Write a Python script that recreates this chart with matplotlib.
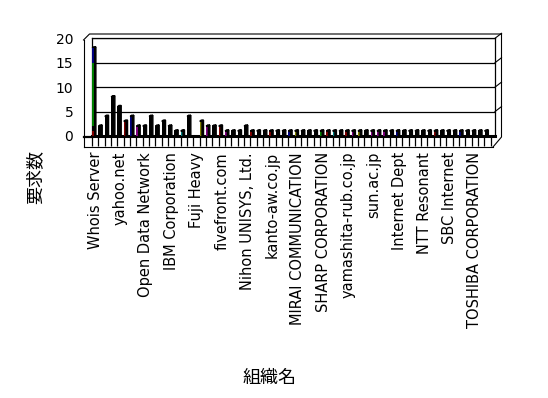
import matplotlib
matplotlib.use('Agg')
import matplotlib.pyplot as plt
from matplotlib.lines import Line2D
from matplotlib.patches import Polygon

# palette used by the old chart
BLACK = '#000000'
RED = '#800000'
GREEN = '#008000'
OLIVE = '#808000'
NAVY = '#000080'
PURPLE = '#800080'
TEAL = '#008080'

# requests per organisation
values = [18, 2, 4, 8, 6, 3, 4, 2, 2, 4,
          2, 3, 2, 1, 1, 4, 0, 3, 2, 2,
          2, 1, 1, 1, 2, 1, 1, 1, 1, 1,
          1, 1, 1, 1, 1, 1, 1, 1, 1, 1,
          1, 1, 1, 1, 1, 1, 1, 1, 1, 1,
          1, 1, 1, 1, 1, 1, 1, 1, 1, 1,
          1, 1, 1]
bar_colors = [GREEN, BLACK, BLACK, BLACK, BLACK, RED, NAVY, PURPLE, BLACK, BLACK,
              BLACK, BLACK, BLACK, BLACK, TEAL, BLACK, BLACK, OLIVE, PURPLE, BLACK,
              RED, PURPLE, BLACK, BLACK, BLACK, RED, BLACK, BLACK, RED, BLACK,
              BLACK, NAVY, OLIVE, BLACK, BLACK, BLACK, GREEN, RED, TEAL, BLACK,
              RED, PURPLE, OLIVE, BLACK, PURPLE, PURPLE, PURPLE, BLACK, NAVY, BLACK,
              BLACK, BLACK, BLACK, BLACK, RED, BLACK, BLACK, BLACK, NAVY, BLACK,
              BLACK, BLACK, BLACK]

# the Whois Server column is split into coloured parts
whois_low = [0, 1, 2, 15]
whois_high = [1, 2, 15, 18]
whois_colors = [RED, BLACK, GREEN, NAVY]

# only every fourth organisation is labelled
label_positions = [0, 4, 8, 12, 16, 20, 24, 28, 32, 36, 40, 44, 48, 52, 56, 60]
labels = ['Whois Server', 'yahoo.net', 'Open Data Network', 'IBM Corporation',
          'Fuji Heavy', 'fivefront.com', 'Nihon UNISYS, Ltd.', 'kanto-aw.co.jp',
          'MIRAI COMMUNICATION', 'SHARP CORPORATION', 'yamashita-rub.co.jp',
          'sun.ac.jp', 'Internet Dept', 'NTT Resonant', 'SBC Internet',
          'TOSHIBA CORPORATION']
y_ticks = [0, 5, 10, 15, 20]

W, H = 548, 398
JP = ['Noto Sans CJK JP', 'DejaVu Sans']


def fx(x):
    return x / W


def fy(y):
    return 1 - y / H


def fig_line(fig, xs, ys, lw=0.8):
    fig.add_artist(Line2D([fx(x) for x in xs], [fy(y) for y in ys],
                          color='black', lw=lw, transform=fig.transFigure))


def main():
    fig = plt.figure(figsize=(W / 100, H / 100), dpi=100)
    # back wall of the 3d box, in pixels of the picture
    left, right, top, bottom = 92, 495, 38.3, 136
    ax = fig.add_axes([fx(left), fy(bottom), fx(right - left), (bottom - top) / H])
    n = len(values)
    cat_w = 6.33
    ax.set_xlim(-0.5, (right - left) / cat_w - 0.5)
    ax.set_ylim(0, 20)

    # columns: coloured front face, black side and top
    w = 0.35
    dx, dy = 0.24, 0.25
    xs = [i - 0.3 for i in range(n)]
    ax.bar(xs, values, width=w, color=bar_colors, edgecolor='none', zorder=3)
    ax.bar([xs[0]] * len(whois_low), [h - l for l, h in zip(whois_low, whois_high)],
           bottom=whois_low, width=w, color=whois_colors, edgecolor='none', zorder=4)
    for x, v in zip(xs, values):
        if v <= 0:
            continue
        r = x + w / 2
        side = Polygon([(r, 0), (r, v), (r + dx, v + dy), (r + dx, dy)],
                       closed=True, color=BLACK, zorder=3, clip_on=False)
        cap = Polygon([(x - w / 2, v), (r, v), (r + dx, v + dy), (x - w / 2 + dx, v + dy)],
                      closed=True, color=BLACK, zorder=3, clip_on=False)
        ax.add_patch(side)
        ax.add_patch(cap)

    # gridlines and walls
    ax.set_yticks(y_ticks)
    ax.set_yticklabels([str(t) for t in y_ticks], fontsize=10)
    ax.yaxis.grid(True, color='black', lw=0.9)
    ax.set_axisbelow(True)
    ax.tick_params(axis='y', length=0, pad=13.5)
    for s in ['left', 'right', 'top']:
        ax.spines[s].set_linewidth(0.9)
    ax.spines['bottom'].set_linewidth(2.2)

    # floor slab boxes as minor ticks, labels as major ticks
    ax.set_xticks([i - 0.5 for i in range(n + 1)], minor=True)
    ax.tick_params(axis='x', which='minor', length=7.5, width=0.9, direction='out')
    ax.set_xticks(label_positions)
    ax.set_xticklabels(labels, rotation=90, fontsize=10.5, va='top', ha='center')
    ax.tick_params(axis='x', which='major', length=0, pad=11.5)

    # 3d outline around the walls and the floor
    fig_line(fig, [83.5, 83.5], [40, 147])
    fig_line(fig, [83.5, 89.5, 501.5], [40, 34, 34])
    fig_line(fig, [83.5, 493], [147, 147])
    fig_line(fig, [493, 501.5, 501.5], [147, 137, 34])
    fig_line(fig, [83.5, 92], [137, 137], lw=1.6)
    for t in y_ticks[1:]:
        y = bottom - (bottom - top) * t / 20
        fig_line(fig, [right, 501.5], [y, y - 5])

    fig.text(fx(35), fy(177), '要求数', rotation=90, ha='center', va='center',
             fontsize=13, family=JP)
    fig.text(fx(270), fy(378), '組織名', ha='center', va='center',
             fontsize=13, family=JP)

    fig.savefig('out.png', dpi=100)


if __name__ == '__main__':
    main()
